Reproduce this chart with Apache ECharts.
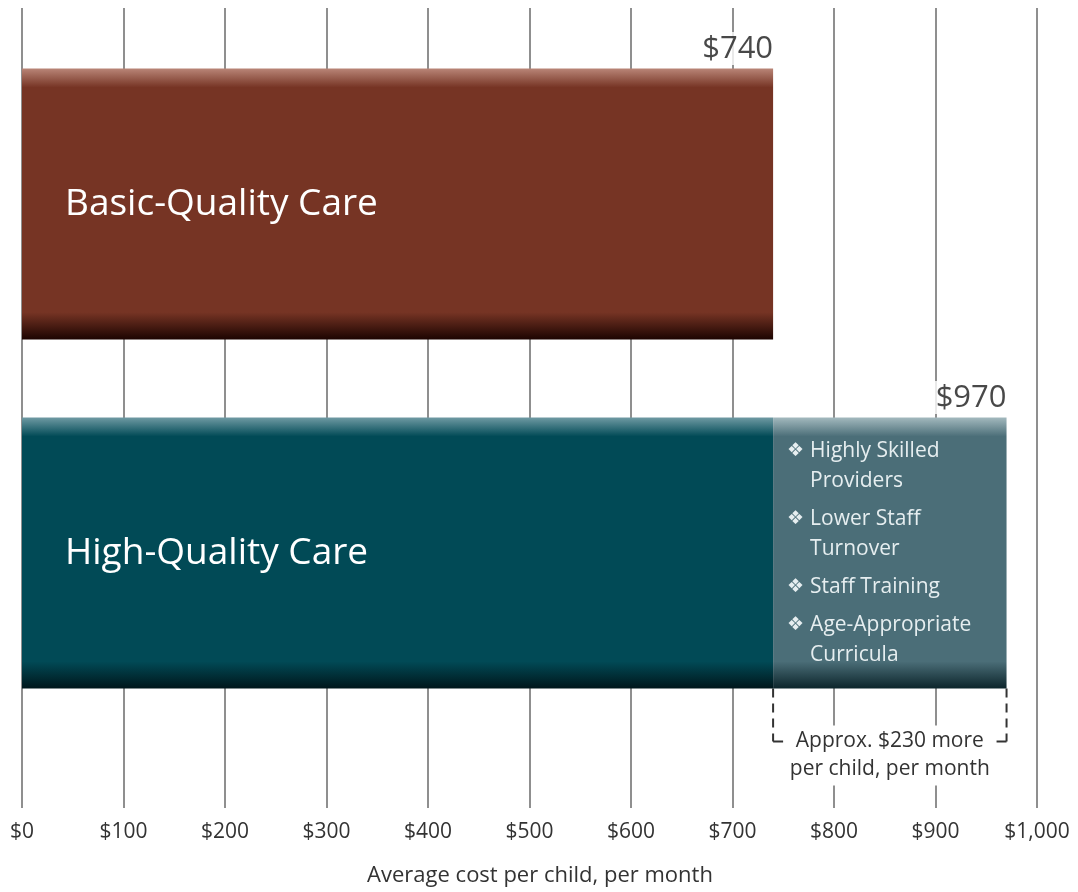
<!DOCTYPE html>
<html>
<head>
<meta charset="utf-8">
<script src="https://cdn.jsdelivr.net/npm/echarts@6/dist/echarts.min.js"></script>
<style>
  html, body { margin: 0; padding: 0; background: #fff; }
  #main { width: 1078px; height: 892px; }
</style>
</head>
<body>
<div id="main"></div>
<script>
  // chart values
  const categories = ['Basic-Quality Care', 'High-Quality Care'];
  const baseCost = [740, 740];
  const qualityExtra = [0, 230];
  const qualityFactors = [
    ['Highly Skilled', 'Providers'],
    ['Lower Staff', 'Turnover'],
    ['Staff Training'],
    ['Age-Appropriate', 'Curricula']
  ];
  const xTicks = [0, 100, 200, 300, 400, 500, 600, 700, 800, 900, 1000];
  const axisTitle = 'Average cost per child, per month';

  const FONT = '"Open Sans", "Noto Sans", sans-serif';
  const totals = baseCost.map((v, i) => v + qualityExtra[i]);
  const extraIdx = 1;

  function bevel(light, main, dark) {
    return new echarts.graphic.LinearGradient(0, 0, 0, 1, [
      {offset: 0, color: light},
      {offset: 0.07, color: main},
      {offset: 0.9, color: main},
      {offset: 1, color: dark}
    ]);
  }
  const baseColors = [
    bevel('#b98577', '#763424', '#1c0401'),
    bevel('#6f9aa3', '#014a56', '#00161b')
  ];
  const extraColor = bevel('#a3b9be', '#4b6e78', '#0c252b');

  // bullet list text for the extra segment
  let lines = [];
  qualityFactors.forEach((f, k) => {
    if (k > 0) lines.push('{gap| }');
    f.forEach((t, j) => {
      lines.push((j === 0 ? '{b|\u2756}' : '{b| }') + '{t|' + t + '}');
    });
  });
  const factorText = lines.join('\n');

  const chart = echarts.init(document.getElementById('main'));
  const option = {
    animation: false,
    backgroundColor: '#fff',
    textStyle: {fontFamily: FONT},
    grid: [
      {left: 22, right: 41, top: 8, bottom: 77},
      {left: 22, right: 41, top: 29.5, height: 698}
    ],
    xAxis: [
      {
        gridIndex: 0, type: 'value', min: xTicks[0], max: xTicks[xTicks.length - 1], interval: 100,
        axisLine: {show: false}, axisTick: {show: false},
        splitLine: {lineStyle: {color: '#8f8f8f', width: 2}},
        axisLabel: {
          margin: 14, fontSize: 21, color: '#333', fontFamily: FONT,
          formatter: v => '$' + v.toLocaleString('en-US')
        },
        name: axisTitle, nameLocation: 'middle', nameGap: 57,
        nameTextStyle: {fontSize: 22, color: '#333', fontFamily: FONT, padding: [0, 0, 0, 21]}
      },
      {
        gridIndex: 1, type: 'value', min: 0, max: 1000, show: false
      }
    ],
    yAxis: [
      {gridIndex: 0, type: 'value', show: false},
      {gridIndex: 1, type: 'category', data: categories, inverse: true, show: false}
    ],
    series: [
      {
        name: 'Base', type: 'bar', stack: 'cost', xAxisIndex: 1, yAxisIndex: 1,
        barWidth: 271,
        data: baseCost.map((v, i) => ({value: v, itemStyle: {color: baseColors[i]}})),
        label: {
          show: true, position: 'insideLeft', distance: 43,
          formatter: '{b}', color: '#fff', fontSize: 37, fontFamily: FONT
        }
      },
      {
        name: 'Quality', type: 'bar', stack: 'cost', xAxisIndex: 1, yAxisIndex: 1,
        barWidth: 271,
        data: qualityExtra.map((v, i) => ({
          value: v,
          label: {show: i === extraIdx}
        })),
        itemStyle: {color: extraColor},
        label: {
          position: 'insideLeft', distance: 14,
          formatter: factorText,
          rich: {
            b: {width: 23, fontSize: 19, color: '#e6eef0', lineHeight: 30, fontFamily: 'DejaVu Sans'},
            t: {fontSize: 21, color: '#e6eef0', lineHeight: 30, fontFamily: FONT},
            gap: {fontSize: 4, lineHeight: 8}
          }
        }
      },
      {
        name: 'Total', type: 'scatter', xAxisIndex: 1, yAxisIndex: 1,
        symbolSize: 0,
        data: totals.map((v, i) => [v, i]),
        label: {
          show: true, position: [0, -139], align: 'right', verticalAlign: 'bottom',
          formatter: p => '$' + p.value[0], fontSize: 31, color: '#1a1a1a',
          fontFamily: FONT, backgroundColor: '#fff', padding: [2, 0, 0, 4]
        }
      },
      {
        name: 'Bracket', type: 'custom', xAxisIndex: 1, yAxisIndex: 1,
        clip: false, silent: true,
        data: [[baseCost[extraIdx], totals[extraIdx], extraIdx]],
        renderItem: function (params, api) {
          const a = api.coord([api.value(0), api.value(2)]);
          const b = api.coord([api.value(1), api.value(2)]);
          const half = 271 / 2;
          const top = a[1] + half;
          const y = top + 53;
          const dash = {stroke: '#333', lineWidth: 2, lineDash: [9, 6], fill: null};
          const solid = {stroke: '#333', lineWidth: 2, fill: null};
          return {
            type: 'group',
            children: [
              {type: 'polyline', shape: {points: [[a[0], top], [a[0], y]]}, style: dash},
              {type: 'polyline', shape: {points: [[a[0], y], [a[0] + 10, y]]}, style: solid},
              {type: 'polyline', shape: {points: [[b[0], top], [b[0], y]]}, style: dash},
              {type: 'polyline', shape: {points: [[b[0], y], [b[0] - 10, y]]}, style: solid},
              {
                type: 'text',
                style: {
                  x: (a[0] + b[0]) / 2, y: y - 16,
                  text: 'Approx. $' + (api.value(1) - api.value(0)) + ' more\nper child, per month',
                  align: 'center', verticalAlign: 'top',
                  fill: '#333', fontSize: 21, lineHeight: 28, fontFamily: FONT,
                  backgroundColor: '#fff', padding: [2, 3, 2, 3]
                }
              }
            ]
          };
        }
      }
    ]
  };
  chart.setOption(option);
</script>
</body>
</html>
